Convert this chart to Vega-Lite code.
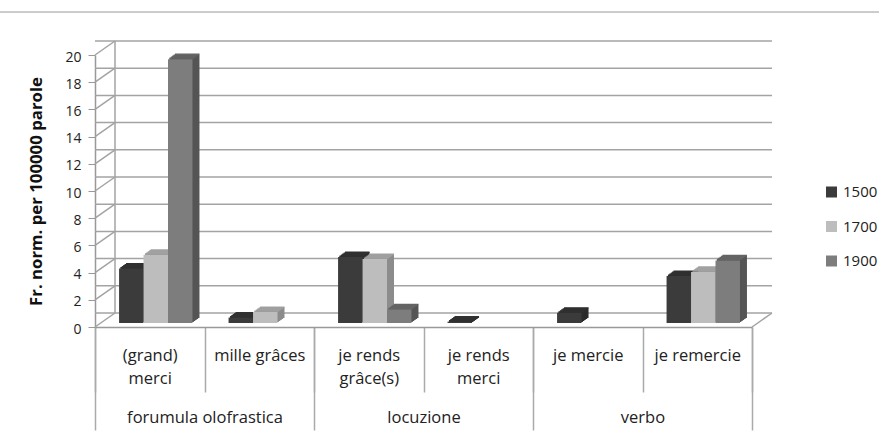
{
"$schema":"https://vega.github.io/schema/vega-lite/v6.json",
"width":657,"height":272,
"autosize":{"type":"none"},
"padding":{"left":95,"top":55,"right":127,"bottom":110},
"background":"white",
"config":{"view":{"stroke":null},"font":"Open Sans"},
"datasets":{
"ticks":[{"v":0},{"v":2},{"v":4},{"v":6},{"v":8},{"v":10},{"v":12},{"v":14},{"v":16},{"v":18},{"v":20}],
"groups":[{"group":"forumula olofrastica"},{"group":"locuzione"},{"group":"verbo"}],
"forms":[{"form":"(grand) merci"},{"form":"mille grâces"},{"form":"je rends grâce(s)"},{"form":"je rends merci"},{"form":"je mercie"},{"form":"je remercie"}],
"bars":[
{"form":"(grand) merci","period":"1500","value":4.0},
{"form":"(grand) merci","period":"1700","value":5.0},
{"form":"(grand) merci","period":"1900","value":19.4},
{"form":"mille grâces","period":"1500","value":0.4},
{"form":"mille grâces","period":"1700","value":0.8},
{"form":"je rends grâce(s)","period":"1500","value":4.85},
{"form":"je rends grâce(s)","period":"1700","value":4.7},
{"form":"je rends grâce(s)","period":"1900","value":1.0},
{"form":"je rends merci","period":"1500","value":0.1},
{"form":"je mercie","period":"1500","value":0.75},
{"form":"je remercie","period":"1500","value":3.45},
{"form":"je remercie","period":"1700","value":3.75},
{"form":"je remercie","period":"1900","value":4.6}
]},
"layer":[
{"data":{"name":"ticks"},
 "layer":[
 {"mark":{"type":"rule","stroke":"#a3a3a3","strokeWidth":1.5,"xOffset":20,"x2Offset":20,"yOffset":-14},
  "encoding":{"y":{"field":"v","type":"quantitative","scale":{"domain":[0,20],"nice":false},
   "axis":{"values":[0,2,4,6,8,10,12,14,16,18,20],"tickCount":11,"labelOverlap":false,"grid":false,"title":"Fr. norm. per 100000  parole","titleFont":"Open Sans","titleFontSize":16.8,"titleFontWeight":"bold","titleColor":"#111","titleX":-50,"labelFont":"Open Sans","labelFontSize":14,"labelColor":"#222","labelPadding":7,"labelOffset":2,"tickSize":7,"tickColor":"#999","domainColor":"#999","domainWidth":1.5}}}},
 {"mark":{"type":"rule","stroke":"#a3a3a3","strokeWidth":1.5,"x2Offset":20,"y2Offset":-14},
  "encoding":{"x":{"value":0},"x2":{"value":0},"y":{"field":"v","type":"quantitative"},"y2":{"field":"v"}}}
 ]},
{"data":{"values":[{"a":0,"b":20}]},
 "mark":{"type":"rule","stroke":"#a3a3a3","strokeWidth":1.5,"xOffset":20,"yOffset":-14,"y2Offset":-14},
 "encoding":{"x":{"value":0},"y":{"field":"a","type":"quantitative"},"y2":{"field":"b"}}},
{"data":{"values":[{"a":0}]},
 "mark":{"type":"rule","stroke":"#a3a3a3","strokeWidth":1.5,"x2Offset":20,"y2Offset":-14},
 "encoding":{"x":{"value":657},"x2":{"value":657},"y":{"field":"a","type":"quantitative"},"y2":{"field":"a"}}},
{"data":{"values":[{"a":23.16}]},
 "mark":{"type":"rule","stroke":"#999999","strokeWidth":1,"clip":false},
 "encoding":{"x":{"value":-95},"x2":{"value":784},"y":{"field":"a","type":"quantitative"}}},
{"data":{"name":"groups"},
 "mark":{"type":"rule","opacity":0},
 "encoding":{"x":{"field":"group","type":"nominal","sort":null,"scale":{"domain":["forumula olofrastica","locuzione","verbo"],"paddingInner":0,"paddingOuter":0},
  "axis":{"title":null,"orient":"bottom","labelAngle":0,"tickBand":"extent","tickSize":103,"tickColor":"#aaaaaa","tickWidth":1.5,"domain":false,"labelPadding":-21,"labelFont":"Open Sans","labelFontSize":16.5,"labelColor":"#222"}}}},
{"data":{"name":"forms"},
 "mark":{"type":"rule","opacity":0},
 "encoding":{"x":{"field":"form","type":"nominal","sort":null,"scale":{"domain":["(grand) merci","mille grâces","je rends grâce(s)","je rends merci","je mercie","je remercie"],"paddingInner":0,"paddingOuter":0},
   "axis":{"title":null,"orient":"bottom","labelAngle":0,"tickBand":"extent","tickSize":65,"tickColor":"#aaaaaa","tickWidth":1.5,"domainColor":"#999999","domainWidth":1.5,"labelPadding":-45,"labelFont":"Open Sans","labelFontSize":16.5,"labelColor":"#222","labelLineHeight":23,"labelExpr":"test(/^mille|^je (mercie|remercie)/, datum.label) ? datum.label : split(replace(datum.label, / ([^ ]+)$/, '|$1'), '|')"}}}},
{"data":{"name":"bars"},
 "encoding":{
  "x":{"field":"form","type":"nominal","sort":null,"scale":{"domain":["(grand) merci","mille grâces","je rends grâce(s)","je rends merci","je mercie","je remercie"],"paddingInner":0.33,"paddingOuter":0.165},"axis":null},
  "y":{"field":"value","type":"quantitative","stack":null}
 },
 "layer":[
 {"mark":{"type":"bar","yOffset":-9,"y2Offset":-9},"encoding":{"y2":{"datum":0},"xOffset":{"field":"period","type":"nominal","scale":{"domain":["1500","1700","1900"],"range":[13,86.4]}},"fill":{"field":"period","type":"nominal","legend":null,"scale":{"domain":["1900","1700","1500"],"range":["#555555","#8c8c8c","#2b2b2b"]}}}},
 {"mark":{"type":"bar","yOffset":-8,"y2Offset":-8},"encoding":{"y2":{"datum":0},"xOffset":{"field":"period","type":"nominal","scale":{"domain":["1500","1700","1900"],"range":[11.6,85]}},"fill":{"field":"period","type":"nominal","legend":null}}},
 {"mark":{"type":"bar","yOffset":-7,"y2Offset":-7},"encoding":{"y2":{"datum":0},"xOffset":{"field":"period","type":"nominal","scale":{"domain":["1500","1700","1900"],"range":[10.2,83.6]}},"fill":{"field":"period","type":"nominal","legend":null}}},
 {"mark":{"type":"bar","yOffset":-6,"y2Offset":-6},"encoding":{"y2":{"datum":0},"xOffset":{"field":"period","type":"nominal","scale":{"domain":["1500","1700","1900"],"range":[8.8,82.2]}},"fill":{"field":"period","type":"nominal","legend":null}}},
 {"mark":{"type":"bar","yOffset":-5,"y2Offset":-5},"encoding":{"y2":{"datum":0},"xOffset":{"field":"period","type":"nominal","scale":{"domain":["1500","1700","1900"],"range":[7.4,80.8]}},"fill":{"field":"period","type":"nominal","legend":null}}},
 {"mark":{"type":"bar","yOffset":-9,"y2Offset":-9,"strokeWidth":1.3,"fillOpacity":0},"encoding":{"xOffset":{"field":"period","type":"nominal","scale":{"domain":["1500","1700","1900"],"range":[13,86.4]}},"y2":{"field":"value"},"stroke":{"field":"period","type":"nominal","legend":null,"scale":{"domain":["1700","1500","1900"],"range":["#a2a2a2","#303030","#646464"]}}}},
 {"mark":{"type":"bar","yOffset":-8,"y2Offset":-8,"strokeWidth":1.3,"fillOpacity":0},"encoding":{"xOffset":{"field":"period","type":"nominal","scale":{"domain":["1500","1700","1900"],"range":[11.6,85]}},"y2":{"field":"value"},"stroke":{"field":"period","type":"nominal","legend":null}}},
 {"mark":{"type":"bar","yOffset":-7,"y2Offset":-7,"strokeWidth":1.3,"fillOpacity":0},"encoding":{"xOffset":{"field":"period","type":"nominal","scale":{"domain":["1500","1700","1900"],"range":[10.2,83.6]}},"y2":{"field":"value"},"stroke":{"field":"period","type":"nominal","legend":null}}},
 {"mark":{"type":"bar","yOffset":-6,"y2Offset":-6,"strokeWidth":1.3,"fillOpacity":0},"encoding":{"xOffset":{"field":"period","type":"nominal","scale":{"domain":["1500","1700","1900"],"range":[8.8,82.2]}},"y2":{"field":"value"},"stroke":{"field":"period","type":"nominal","legend":null}}},
 {"mark":{"type":"bar","yOffset":-5,"y2Offset":-5,"strokeWidth":1.3,"fillOpacity":0},"encoding":{"xOffset":{"field":"period","type":"nominal","scale":{"domain":["1500","1700","1900"],"range":[7.4,80.8]}},"y2":{"field":"value"},"stroke":{"field":"period","type":"nominal","legend":null}}},
 {"mark":{"type":"bar","yOffset":-4,"y2Offset":-4},
  "encoding":{"y2":{"datum":0},"xOffset":{"field":"period","type":"nominal","scale":{"domain":["1500","1700","1900"],"range":[6,79.4]}},"color":{"field":"period","type":"nominal","scale":{"domain":["1500","1700","1900"],"range":["#3b3b3b","#bdbdbd","#7d7d7d"]},
   "legend":{"title":null,"orient":"none","legendX":729,"legendY":129.5,"symbolType":"square","symbolSize":121,"rowPadding":18.5,"labelFont":"Open Sans","labelFontSize":15,"labelColor":"#222","labelOffset":4,"symbolStrokeWidth":0}}}}
 ],
 "resolve":{"scale":{"xOffset":"independent"}}
}
],
"resolve":{"scale":{"x":"independent"},"axis":{"x":"independent"}}
}
